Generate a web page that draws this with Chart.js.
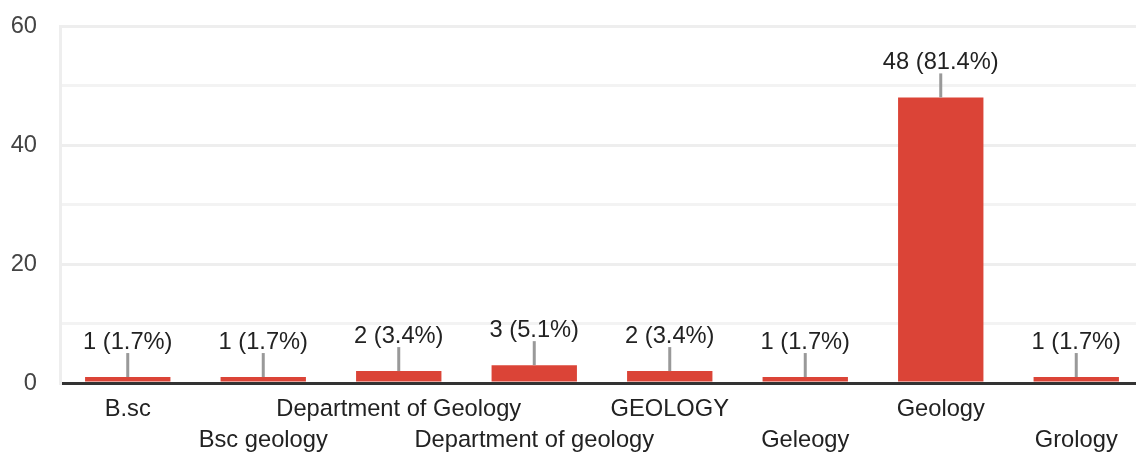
<!DOCTYPE html>
<html>
<head>
<meta charset="utf-8">
<script src="https://cdn.jsdelivr.net/npm/chart.js@4"></script>
<style>
  html, body { margin: 0; padding: 0; background: #fff; overflow: hidden; }
  /* plot runs a few px past the right edge in the reference */
  #wrap { width: 1144px; height: 454px; position: relative; }
</style>
</head>
<body>
<div id="wrap"><canvas id="chart"></canvas></div>
<script>
// data
const categories = ['B.sc', 'Bsc geology', 'Department of Geology', 'Department of geology',
  'GEOLOGY', 'Geleogy', 'Geology', 'Grology'];
const counts = [1, 1, 2, 3, 2, 1, 48, 1];
const percents = ['1.7', '1.7', '3.4', '5.1', '3.4', '1.7', '81.4', '1.7'];
const yTicks = [0, 20, 40, 60];

const FONT = '"Liberation Sans", Arial, sans-serif';
const FSIZE = 23.7;

// value labels with a little grey leader line above each bar
const barLabels = {
  id: 'barLabels',
  afterDatasetsDraw(chart) {
    const ctx = chart.ctx;
    const meta = chart.getDatasetMeta(0);
    ctx.save();
    meta.data.forEach((bar, i) => {
      ctx.strokeStyle = '#999999';
      ctx.lineWidth = 3;
      ctx.beginPath();
      ctx.moveTo(bar.x, bar.y);
      ctx.lineTo(bar.x, bar.y - 24);
      ctx.stroke();
      ctx.fillStyle = '#222222';
      ctx.font = FSIZE + 'px ' + FONT;
      ctx.textAlign = 'center';
      ctx.textBaseline = 'middle';
      ctx.fillText(counts[i] + ' (' + percents[i] + '%)', bar.x, bar.y - 35);
    });
    ctx.restore();
  }
};

new Chart(document.getElementById('chart'), {
  type: 'bar',
  data: {
    labels: categories,
    datasets: [{
      data: counts,
      backgroundColor: '#db4437',
      barPercentage: 0.63,
      categoryPercentage: 1
    }]
  },
  options: {
    responsive: true,
    maintainAspectRatio: false,
    animation: false,
    layout: { padding: { top: 26, right: 0, bottom: 0, left: 0 } },
    plugins: { legend: { display: false }, tooltip: { enabled: false } },
    scales: {
      x: {
        afterFit: function(scale) { scale.height = 71; },
        grid: { display: false, drawTicks: false },
        border: { display: true, color: '#333333', width: 3 },
        ticks: {
          padding: 11,
          color: '#222222',
          font: { family: FONT, size: FSIZE, lineHeight: 31 / FSIZE },
          autoSkip: false,
          maxRotation: 0,
          // every other label goes on a second row
          callback: function(value, index) {
            const name = categories[index];
            return index % 2 ? ['', name] : name;
          }
        }
      },
      y: {
        min: 0,
        max: 60,
        afterFit: function(scale) {
          scale.width = 60;
          scale.paddingTop = 0;
          scale.paddingBottom = 0;
        },
        grid: {
          drawTicks: false,
          lineWidth: 3,
          color: function(c) {
            if (c.tick.value === 0) return 'rgba(0,0,0,0)';
            return c.tick.value % 20 === 0 ? '#eeeeee' : '#f3f3f3';
          }
        },
        border: { display: true, color: '#eeeeee', width: 3 },
        ticks: {
          stepSize: 10,
          padding: 23,
          color: '#444444',
          font: { family: FONT, size: FSIZE },
          callback: function(value) {
            return yTicks.includes(value) ? String(value) : '';
          }
        }
      }
    }
  },
  plugins: [barLabels]
});
</script>
</body>
</html>
